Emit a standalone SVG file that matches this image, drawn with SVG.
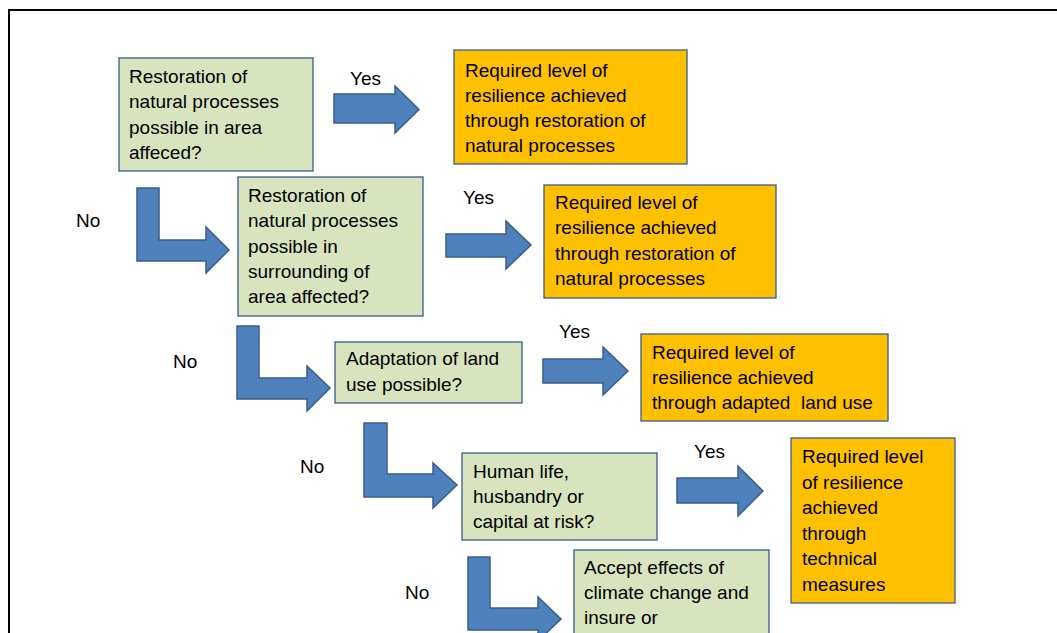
<svg xmlns="http://www.w3.org/2000/svg" width="1057" height="633" viewBox="0 0 1057 633">
<style>
.g{fill:#D7E4BD;stroke:#385D8A;stroke-width:1.3}
.o{fill:#FFC000;stroke:#385D8A;stroke-width:1.3}
.a{fill:#4F81BD;stroke:#385D8A;stroke-width:1.5;stroke-linejoin:miter}
text{font-family:"Liberation Sans",Arial,sans-serif;font-size:19px;fill:#000}
</style>
<rect x="0" y="0" width="1057" height="633" fill="#fff"/>
<rect x="9" y="10" width="1100" height="700" fill="none" stroke="#000" stroke-width="2"/>
<g id="connectors">
<path class="a" d="M334,94 H395 V86 L419,109.5 L395,133 V123 H334 Z"/>
<path class="a" d="M446,234 H506 V221 L531,245 L506,269 V257 H446 Z"/>
<path class="a" d="M543,359 H603 V347 L628,371 L603,395 V383 H543 Z"/>
<path class="a" d="M677,478 H738 V466 L763,491 L738,516 V503 H677 Z"/>
<path class="a" d="M137,188 H159 V240 H206 V227 L229,250 L206,273 V261 H137 Z"/>
<path class="a" d="M237,326 H259 V378 H307 V366 L330,388 L307,411 V399 H237 Z"/>
<path class="a" d="M364,423 H387 V474 H433 V463 L457,485 L433,508 V497 H364 Z"/>
<path class="a" d="M468,557 H490 V608 H538 V597 L561,619 L538,641 V630 H468 Z"/>
<text x="350" y="85">Yes</text>
<text x="463" y="204">Yes</text>
<text x="559" y="338">Yes</text>
<text x="694" y="458">Yes</text>
<text x="76" y="227">No</text>
<text x="173" y="368">No</text>
<text x="300" y="473">No</text>
<text x="405" y="599">No</text>
</g>
<g id="q1">
<rect class="g" x="119" y="58" width="194" height="113"/>
<text x="129" y="83">Restoration of</text>
<text x="129" y="108">natural processes</text>
<text x="129" y="133.5">possible in area</text>
<text x="129" y="159">affeced?</text>
</g>
<g id="r1">
<rect class="o" x="454" y="50" width="233" height="114"/>
<text x="465" y="77">Required level of</text>
<text x="465" y="102">resilience achieved</text>
<text x="465" y="127">through restoration of</text>
<text x="465" y="152">natural processes</text>
</g>
<g id="q2">
<rect class="g" x="238" y="177" width="185" height="139"/>
<text x="248" y="202">Restoration of</text>
<text x="248" y="227">natural processes</text>
<text x="248" y="253">possible in</text>
<text x="248" y="278">surrounding of</text>
<text x="248" y="303">area affected?</text>
</g>
<g id="r2">
<rect class="o" x="544" y="185" width="232" height="113"/>
<text x="555" y="209">Required level of</text>
<text x="555" y="234">resilience achieved</text>
<text x="555" y="260">through restoration of</text>
<text x="555" y="285">natural processes</text>
</g>
<g id="q3">
<rect class="g" x="335" y="342" width="187" height="61"/>
<text x="346" y="365">Adaptation of land</text>
<text x="346" y="391">use possible?</text>
</g>
<g id="r3">
<rect class="o" x="641" y="334" width="247" height="87"/>
<text x="652" y="359">Required level of</text>
<text x="652" y="384">resilience achieved</text>
<text x="652" y="409" xml:space="preserve">through adapted  land use</text>
</g>
<g id="q4">
<rect class="g" x="462" y="453" width="195" height="87"/>
<text x="473" y="478">Human life,</text>
<text x="473" y="503">husbandry or</text>
<text x="473" y="528">capital at risk?</text>
</g>
<g id="r4">
<rect class="o" x="791" y="438" width="164" height="165"/>
<text x="802" y="463">Required level</text>
<text x="802" y="489">of resilience</text>
<text x="802" y="514">achieved</text>
<text x="802" y="540">through</text>
<text x="802" y="565">technical</text>
<text x="802" y="591">measures</text>
</g>
<g id="q5">
<rect class="g" x="574" y="550" width="195" height="150"/>
<text x="584" y="574">Accept effects of</text>
<text x="584" y="599">climate change and</text>
<text x="584" y="624">insure or</text>
</g>
</svg>
